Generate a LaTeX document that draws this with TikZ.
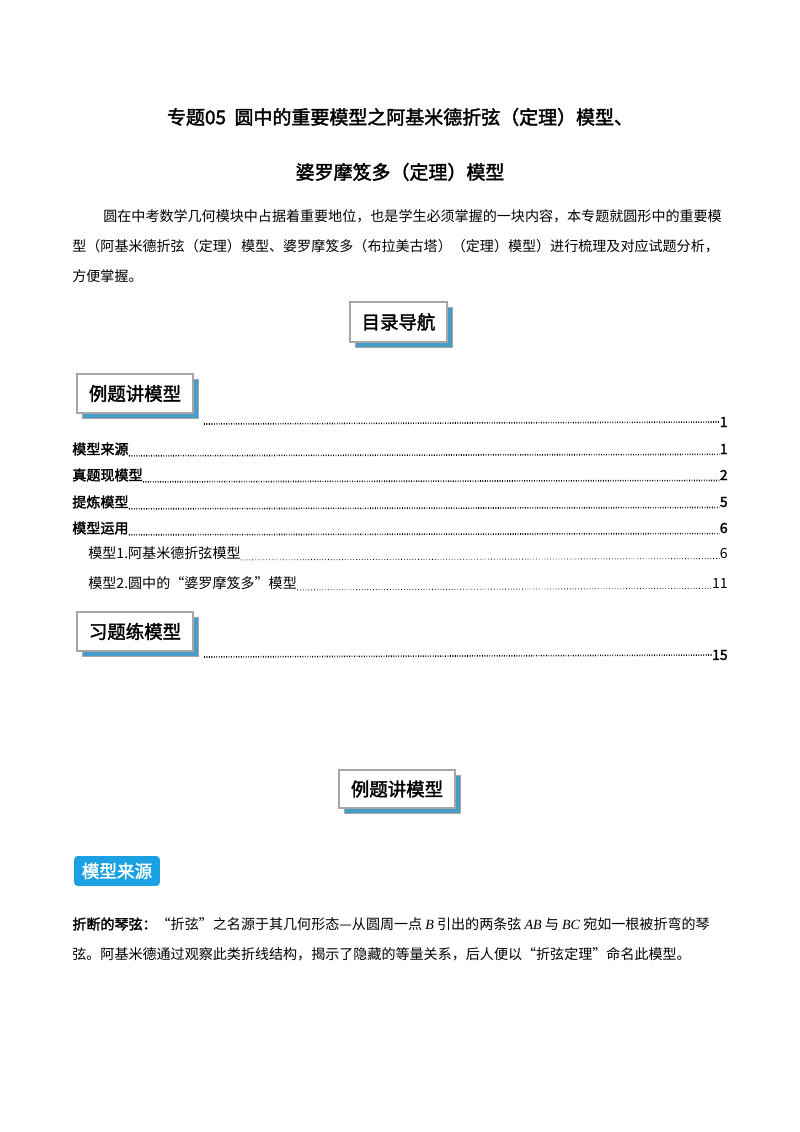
\documentclass[tikz,border=0pt]{standalone}
\usepackage{fontspec}
\setmainfont{Noto Sans CJK SC}[AutoFakeBold=2]
\newfontfamily\latinit{Liberation Serif}
\newcommand{\mv}[1]{{\latinit\itshape #1}}
\definecolor{shadowblue}{HTML}{4A9CC8}
\definecolor{tagblue}{HTML}{1BA1E2}
\begin{document}
\begin{tikzpicture}[x=0.02cm,y=-0.02cm,
  body/.style={anchor=west,inner sep=0pt,font=\fontsize{8}{9}\selectfont},
  bodyb/.style={body,font=\fontsize{8}{9}\selectfont\bfseries},
  title/.style={inner sep=0pt,font=\fontsize{10.8}{12}\selectfont\bfseries},
  num/.style={anchor=east,inner sep=0pt,font=\fontsize{8}{9}\selectfont\bfseries},
  lead/.style={line width=0.9pt,dash pattern=on 0.5pt off 0.9pt},
  hbox/.style={draw=gray!70,line width=1pt,fill=white,inner xsep=5pt,inner ysep=4pt,font=\fontsize{10.5}{12}\selectfont\bfseries},
  shadowc/.style={fill=shadowblue,draw=gray!70},
  bluetag/.style={fill=tagblue,rounded corners=2pt,text=white,inner xsep=3pt,inner ysep=3pt,font=\fontsize{10}{12}\selectfont\bfseries}]
\useasboundingbox[fill=white] (0,0) rectangle (800,1132);
\node[title] (t1) at (400,117) {专题05\ \ 圆中的重要模型之阿基米德折弦（定理）模型、};
\node[title] (t2) at (400,172) {婆罗摩笈多（定理）模型};
\node[body] (p1) at (103,216) {圆在中考数学几何模块中占据着重要地位，也是学生必须掌握的一块内容，本专题就圆形中的重要模};
\node[body] (p2) at (72,246) {型（阿基米德折弦（定理）模型、婆罗摩笈多（布拉美古塔）（定理）模型）进行梳理及对应试题分析，};
\node[body] (p3) at (72,276) {方便掌握。};
\fill[shadowc] (355,307) rectangle (452,347);
\node[hbox,minimum width=97*0.567pt,minimum height=40*0.567pt] (h1) at (398.5,322) {目录导航};
\fill[shadowc] (82,379) rectangle (198,418);
\node[hbox,minimum width=116*0.567pt,minimum height=39*0.567pt] (h2) at (135,393.5) {例题讲模型};
\node[num] (n0) at (728,422) {1};
\draw[lead] (204,424) -- (n0.west);
\node[bodyb] (e1) at (72,449) {模型来源};
\node[num] (n1) at (728,449) {1};
\draw[lead] (e1.south east) -- (n1.south west);
\node[bodyb] (e2) at (72,475) {真题现模型};
\node[num] (n2) at (728,475) {2};
\draw[lead] (e2.south east) -- (n2.south west);
\node[bodyb] (e3) at (72,502) {提炼模型};
\node[num] (n3) at (728,502) {5};
\draw[lead] (e3.south east) -- (n3.south west);
\node[bodyb] (e4) at (72,528) {模型运用};
\node[num] (n4) at (728,528) {6};
\draw[lead] (e4.south east) -- (n4.south west);
\node[body] (e5) at (88,553) {模型1.阿基米德折弦模型};
\node[num,font=\fontsize{8}{9}\selectfont] (n5) at (728,553) {6};
\draw[line width=0.5pt,dash pattern=on 0.4pt off 1.2pt] (e5.south east) -- (n5.south west);
\node[body] (e6) at (88,583) {模型2.圆中的“婆罗摩笈多”模型};
\node[num,font=\fontsize{8}{9}\selectfont] (n6) at (728,583) {11};
\draw[line width=0.5pt,dash pattern=on 0.4pt off 1.2pt] (e6.south east) -- (n6.south west);
\fill[shadowc] (82,617) rectangle (198,656);
\node[hbox,minimum width=116*0.567pt,minimum height=39*0.567pt] (h3) at (135,631.5) {习题练模型};
\node[num] (n7) at (728,655) {15};
\draw[lead] (204,657) -- (n7.west);
\fill[shadowc] (344,775) rectangle (460,813);
\node[hbox,minimum width=116*0.567pt,minimum height=38*0.567pt] (h4) at (397,789) {例题讲模型};
\node[bluetag,minimum width=86*0.567pt,minimum height=30*0.567pt] (tag) at (117,871) {模型来源};
\node[body] (q1) at (72,924) {\textbf{折断的琴弦：}“折弦”之名源于其几何形态—从圆周一点 \mv{B} 引出的两条弦 \mv{AB} 与 \mv{BC} 宛如一根被折弯的琴};
\node[body] (q2) at (72,954) {弦。阿基米德通过观察此类折线结构，揭示了隐藏的等量关系，后人便以“折弦定理”命名此模型。};
\end{tikzpicture}
\end{document}
